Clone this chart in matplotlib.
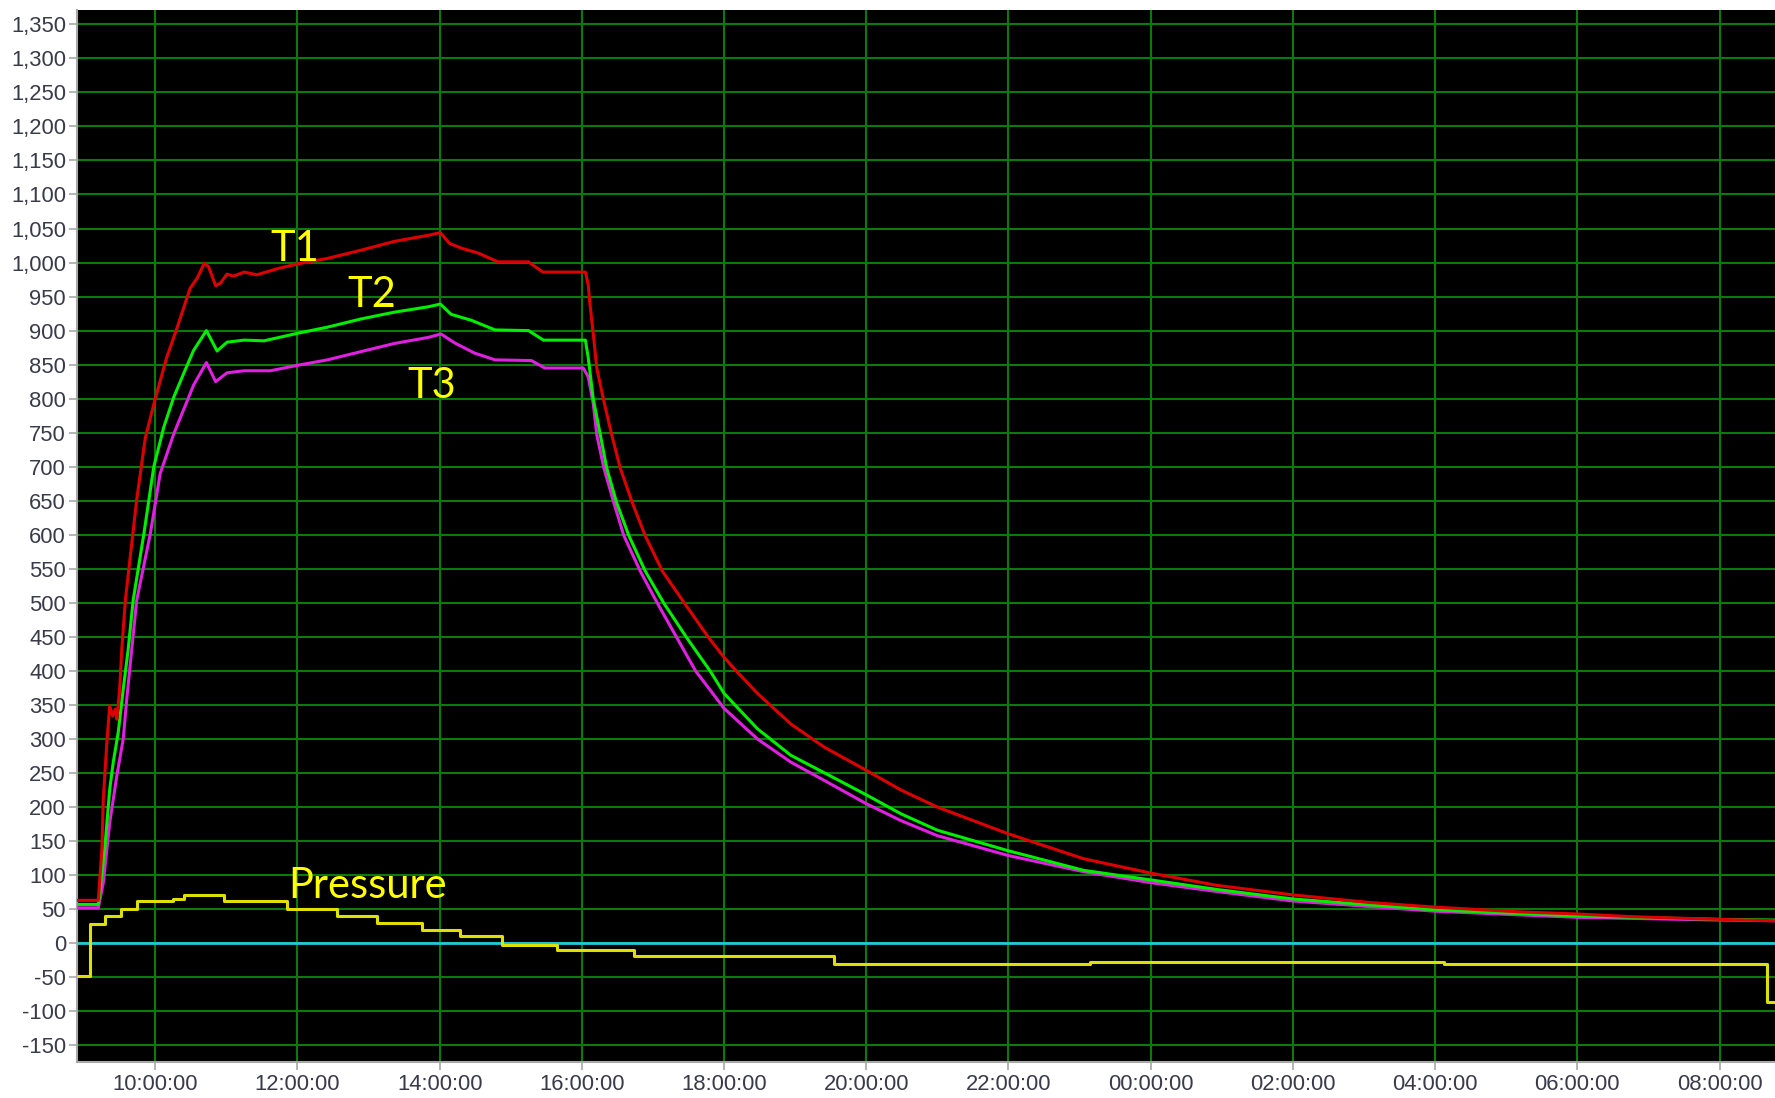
import matplotlib
matplotlib.use("Agg")
import matplotlib.pyplot as plt
from matplotlib.ticker import FuncFormatter

# ---- data (time in hours since midnight of day 1) ----
t1_time = [8.90, 9.20, 9.25, 9.27, 9.32, 9.36, 9.40, 9.44, 9.46, 9.50, 9.53, 9.58, 9.74, 9.86,
           10.00, 10.16, 10.31, 10.49, 10.59, 10.69, 10.75, 10.85, 10.92, 11.01, 11.10, 11.25,
           11.43, 11.72, 12.00, 12.42, 12.89, 13.36, 13.84, 14.01, 14.14, 14.31, 14.54, 14.82,
           15.25, 15.45, 16.05, 16.09, 16.11, 16.16, 16.21, 16.31, 16.42, 16.54, 16.71, 16.89,
           17.13, 17.44, 17.79, 18.00, 18.19, 18.47, 18.94, 19.41, 20.00, 20.49, 21.00, 21.99,
           23.06, 24.00, 24.93, 26.00, 27.06, 28.00, 29.20, 30.00, 30.76, 32.00, 32.78]
t1_vals = [63, 63, 138, 212, 295, 349, 334, 344, 329, 373, 432, 504, 652, 742,
           800, 860, 905, 962, 977, 999, 994, 966, 970, 983, 980, 986,
           982, 991, 998, 1006, 1018, 1031, 1040, 1044, 1028, 1021, 1014, 1001,
           1001, 986, 986, 967, 943, 896, 845, 796, 747, 698, 647, 599,
           547, 500, 448, 420, 398, 367, 322, 288, 254, 225, 200, 161,
           124, 103, 85, 71, 60, 53, 46, 43, 39, 35, 33]

t2_time = [8.90, 9.20, 9.29, 9.36, 9.41, 9.48, 9.55, 9.62, 9.69, 9.84, 9.98, 10.12, 10.26,
           10.40, 10.54, 10.72, 10.87, 11.01, 11.25, 11.53, 12.00, 12.42, 12.89, 13.36, 13.84,
           14.01, 14.16, 14.45, 14.78, 15.25, 15.46, 16.05, 16.09, 16.16, 16.26, 16.35, 16.49,
           16.66, 16.89, 17.15, 17.48, 17.81, 18.00, 18.47, 18.94, 19.60, 20.00, 20.49, 21.00,
           21.99, 23.06, 24.00, 24.93, 26.00, 28.00, 30.00, 32.00, 32.78]
t2_vals = [57, 57, 138, 226, 266, 310, 373, 432, 504, 601, 700, 758, 802,
           837, 871, 900, 870, 883, 886, 885, 896, 905, 917, 927, 935,
           939, 924, 915, 901, 900, 886, 886, 860, 800, 747, 698, 647,
           599, 547, 500, 448, 399, 367, 315, 276, 240, 218, 190, 166,
           136, 107, 93, 79, 65, 49, 40, 35, 34]

t3_time = [8.90, 9.20, 9.27, 9.36, 9.46, 9.55, 9.60, 9.67, 9.74, 9.93, 10.07, 10.26, 10.54,
           10.72, 10.85, 11.01, 11.25, 11.62, 12.00, 12.42, 12.89, 13.36, 13.84, 14.02, 14.21,
           14.49, 14.78, 15.29, 15.48, 16.02, 16.09, 16.16, 16.21, 16.31, 16.45, 16.59, 16.82,
           17.06, 17.34, 17.60, 18.00, 18.47, 18.94, 19.36, 20.00, 20.49, 21.00, 21.99, 23.06,
           24.00, 24.93, 26.00, 28.00, 30.00, 32.00, 32.78]
t3_vals = [52, 52, 89, 177, 246, 300, 359, 432, 504, 601, 690, 748, 820,
           853, 825, 838, 841, 841, 849, 857, 869, 881, 890, 895, 882,
           867, 857, 856, 845, 845, 832, 793, 747, 698, 647, 599, 547,
           500, 448, 400, 345, 300, 266, 242, 205, 180, 158, 129, 105,
           89, 76, 62, 47, 38, 34, 33]

p_time = [8.90, 9.08, 9.30, 9.52, 9.74, 10.25, 10.40, 10.97, 11.85, 12.55, 13.12, 13.75,
          14.28, 14.88, 15.65, 16.74, 19.54, 23.15, 28.12, 32.67, 32.78]
p_vals = [-48, 28, 40, 50, 62, 65, 71, 62, 50, 40, 30, 20,
          10, -2, -10, -19, -30, -28, -30, -87, -87]

x_tick_pos = [10, 12, 14, 16, 18, 20, 22, 24, 26, 28, 30, 32]
x_tick_labels = ["10:00:00", "12:00:00", "14:00:00", "16:00:00", "18:00:00", "20:00:00",
                 "22:00:00", "00:00:00", "02:00:00", "04:00:00", "06:00:00", "08:00:00"]
y_ticks = list(range(-150, 1351, 50))

labels = ["T1", "T2", "T3", "Pressure"]
label_pos = [(11.62, 1002), (12.70, 934), (13.54, 801), (11.87, 66)]

# ---- figure ----
fig = plt.figure(figsize=(17.75, 10.98), dpi=100, facecolor="white")
ax = fig.add_axes([77 / 1775, 1 - 1062 / 1098, 1 - 77 / 1775, (1062 - 10) / 1098])
ax.set_facecolor("black")

ax.set_xlim(8.90, 32.78)
ax.set_ylim(-174.5, 1371)

ax.set_xticks(x_tick_pos)
ax.set_xticklabels(x_tick_labels)
ax.set_yticks(y_ticks)
ax.yaxis.set_major_formatter(FuncFormatter(lambda v, p: f"{v:,.0f}"))

ax.grid(True, color="#0a7a0a", linewidth=1.5, zorder=0)
ax.set_axisbelow(True)

ax.axhline(0, color="#20c8d8", linewidth=2.0, zorder=2)

ax.plot(p_time, p_vals, color="#e0e000", linewidth=2.2, drawstyle="steps-post", zorder=3)
ax.plot(t3_time, t3_vals, color="#e020e0", linewidth=2.2, zorder=4)
ax.plot(t2_time, t2_vals, color="#00ee00", linewidth=2.2, zorder=5)
ax.plot(t1_time, t1_vals, color="#dd0000", linewidth=2.2, zorder=6)

for txt, (x, y) in zip(labels, label_pos):
    ax.text(x, y, txt, color="#ffff00", fontsize=30, family=["Lato", "DejaVu Sans"],
            ha="left", va="baseline", zorder=7)

for s in ["top", "right"]:
    ax.spines[s].set_visible(False)
for s in ["left", "bottom"]:
    ax.spines[s].set_color("#a8a8a8")
    ax.spines[s].set_linewidth(1.5)

ax.tick_params(axis="both", colors="#a8a8a8", length=6, width=1.2, direction="out")
for lab in ax.get_xticklabels() + ax.get_yticklabels():
    lab.set_color("#3a3a4a")
    lab.set_fontsize(15.8)
    lab.set_family(["Liberation Sans", "DejaVu Sans"])
ax.tick_params(axis="y", pad=2)
ax.tick_params(axis="x", pad=3)

fig.savefig("out.png", dpi=100, facecolor="white")
